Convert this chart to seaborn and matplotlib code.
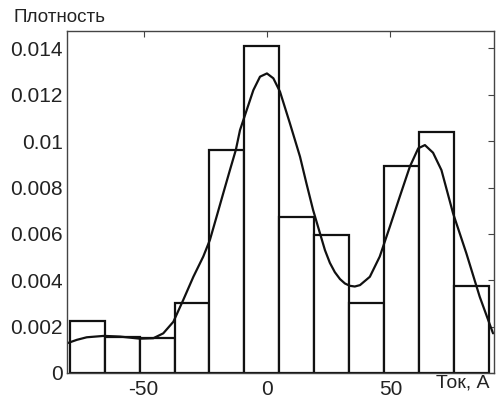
import numpy as np
import pandas as pd
import matplotlib
matplotlib.use('Agg')
import matplotlib.pyplot as plt
import seaborn as sns

# Границы интервалов гистограммы и плотность в каждом интервале
bin_edges = [-79.8, -65.7, -51.5, -37.4, -23.3, -9.1, 5.0, 19.1, 33.3, 47.4, 61.5, 75.7, 89.8]
bar_heights = [0.00226, 0.00155, 0.0015, 0.003, 0.00963, 0.01411, 0.00671, 0.00596,
               0.003, 0.00891, 0.01038, 0.00374]

# Сглаженная кривая плотности (точки)
curve_x = [-81, -77, -73, -66, -59.5, -51.5, -46, -42, -37.9, -33.9, -29.8, -25.8, -23.1,
           -20.4, -17.7, -15, -12.6, -10.9, -8.2, -5.5, -2.8, 0, 2.6, 5.3, 9.3, 13.4, 16,
           18.7, 21.5, 23.5, 25.5, 27.5, 29.6, 31.6, 33.6, 35.6, 37.7, 41.7, 45.7, 49.8,
           53.8, 57.9, 61.3, 64, 67.3, 70.7, 75.4, 80.8, 86.2, 91.6]
curve_y = [0.00128, 0.00143, 0.00154, 0.0016, 0.00157, 0.00148, 0.0015, 0.00171, 0.00221,
           0.00315, 0.00415, 0.00502, 0.00574, 0.00674, 0.00775, 0.00875, 0.00962, 0.01048,
           0.01134, 0.0122, 0.01278, 0.01292, 0.01271, 0.01213, 0.01077, 0.00933, 0.00818,
           0.00703, 0.00602, 0.0053, 0.00475, 0.00435, 0.00405, 0.00386, 0.00376, 0.00373,
           0.00379, 0.00415, 0.00502, 0.00631, 0.0076, 0.0089, 0.00969, 0.00983, 0.0095,
           0.00875, 0.00689, 0.00516, 0.00329, 0.00171]

x_ticks = [-50, 0, 50]
x_tick_labels = ['-50', '0', '50']
y_ticks = [0, 0.002, 0.004, 0.006, 0.008, 0.01, 0.012, 0.014]
y_tick_labels = ['0', '0.002', '0.004', '0.006', '0.008', '0.01', '0.012', '0.014']

sns.set_style('white')
plt.rcParams['font.family'] = ['Liberation Sans', 'DejaVu Sans']

text_color = '#222222'

fig = plt.figure(figsize=(4.97, 3.99), dpi=100)
ax = fig.add_axes([0.1348, 0.0652, 0.8592, 0.8571])

centers = [(bin_edges[i] + bin_edges[i + 1]) / 2 for i in range(len(bar_heights))]
df_bars = pd.DataFrame({'x': centers, 'w': bar_heights})
sns.histplot(data=df_bars, x='x', weights='w', bins=bin_edges, stat='count',
             color='white', edgecolor='#111111', linewidth=1.6, alpha=1, ax=ax)

df_curve = pd.DataFrame({'x': curve_x, 'y': curve_y})
sns.lineplot(data=df_curve, x='x', y='y', color='#111111', linewidth=1.6, ax=ax)

ax.set_xlim(-81, 92)
ax.set_ylim(0, 0.01475)
ax.set_xticks(x_ticks)
ax.set_xticklabels(x_tick_labels)
ax.set_yticks(y_ticks)
ax.set_yticklabels(y_tick_labels)
ax.set_xlabel('')
ax.set_ylabel('')

ax.tick_params(direction='in', length=4, width=0.8, color='#444444',
               top=True, right=True, labelsize=15, labelcolor=text_color)
ax.tick_params(axis='x', pad=5)
ax.tick_params(axis='y', pad=3)
for sp in ax.spines.values():
    sp.set_color('#444444')
    sp.set_linewidth(1.0)

fig.text(0.027, 0.945, 'Плотность', fontsize=13.5, color=text_color, ha='left', va='baseline')
fig.text(0.985, 0.028, 'Ток, А', fontsize=14, color=text_color, ha='right', va='baseline')

fig.savefig('out.png', dpi=100)
